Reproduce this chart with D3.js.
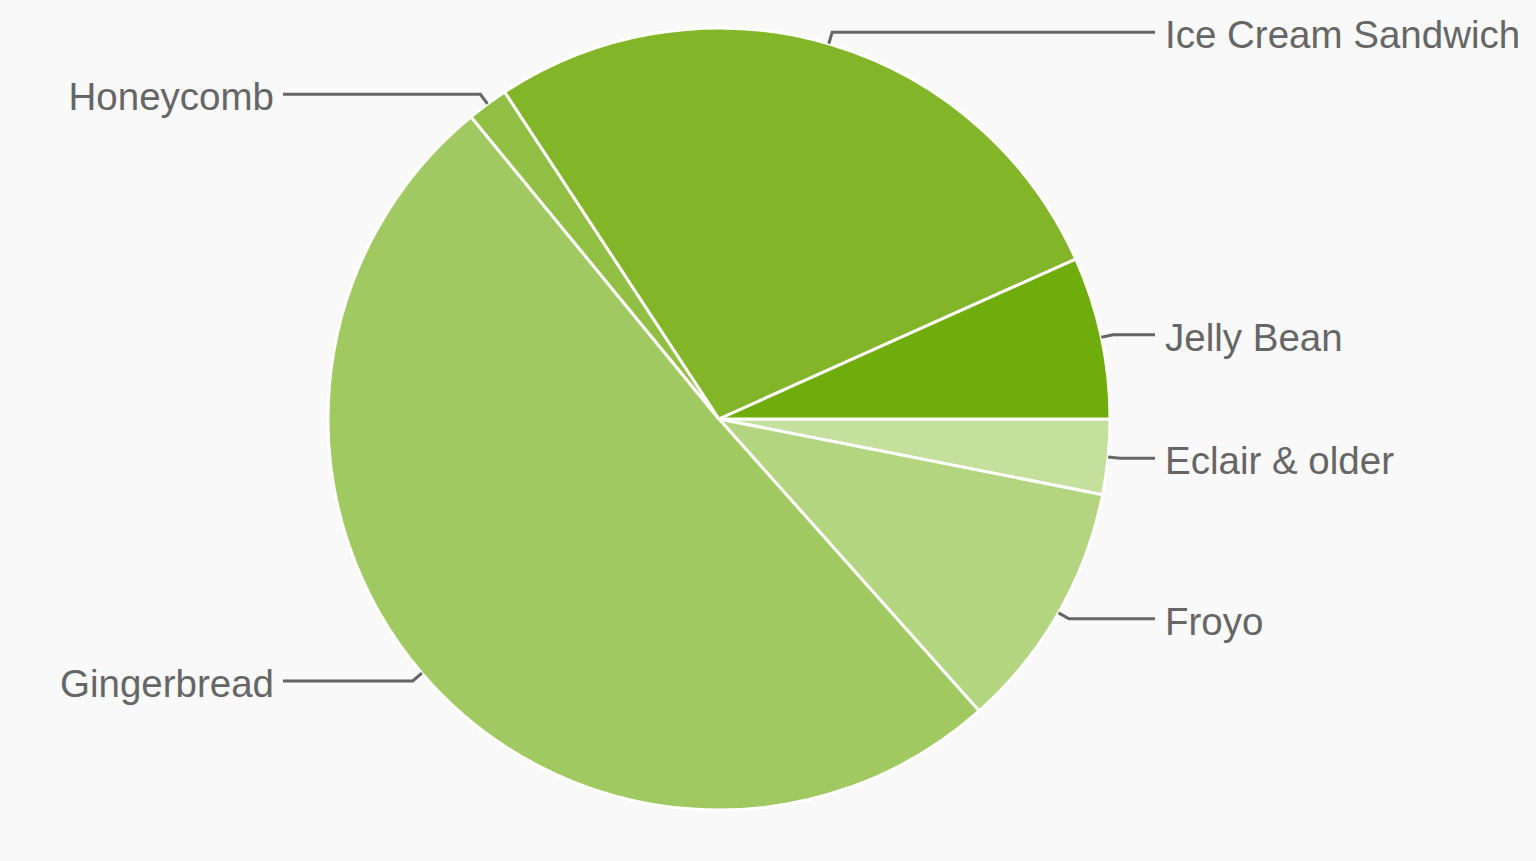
<!DOCTYPE html>
<html>
<head>
<meta charset="utf-8">
<script src="https://cdn.jsdelivr.net/npm/d3@7"></script>
<style>
  html, body { margin: 0; padding: 0; background: #f9f9f9; }
  svg { display: block; }
</style>
</head>
<body>
<div id="chart"></div>
<script>
// platform share, clockwise from 3 o'clock
const versions = ['Eclair & older', 'Froyo', 'Gingerbread', 'Honeycomb', 'Ice Cream Sandwich', 'Jelly Bean'];
const shares = [3.1, 10.3, 50.6, 1.7, 27.5, 6.7];
const colors = ['#c5df9d', '#b3d57f', '#a1c961', '#90bf43', '#82b628', '#6ead0b'];

const width = 1536;
const height = 861;
const cx = 719, cy = 419, radius = 391;

const svg = d3.select('#chart')
  .append('svg')
  .attr('width', width)
  .attr('height', height);

const g = svg.append('g')
  .attr('transform', `translate(${cx},${cy})`);

const data = versions.map((v, i) => ({ name: v, value: shares[i], color: colors[i] }));

const pie = d3.pie()
  .sort(null)
  .value(d => d.value)
  .startAngle(Math.PI / 2)
  .endAngle(Math.PI / 2 + 2 * Math.PI);

const arc = d3.arc().innerRadius(0).outerRadius(radius);

const arcs = pie(data);

g.selectAll('.slice')
  .data(arcs)
  .enter()
  .append('path')
    .attr('class', 'slice')
    .attr('d', arc)
    .attr('fill', d => d.data.color)
    .attr('stroke', '#ffffff')
    .attr('stroke-width', 3)
    .attr('stroke-linejoin', 'round');

// leader lines and labels
const labelGap = 45;
const pointAt = (a, r) => [Math.sin(a) * r, -Math.cos(a) * r];

arcs.forEach(d => {
  const mid = (d.startAngle + d.endAngle) / 2;
  const p0 = pointAt(mid, radius);
  const p1 = pointAt(mid, radius + 12);
  const right = p1[0] > 0;
  const xEnd = right ? radius + labelGap : -(radius + labelGap);

  g.append('path')
    .attr('d', d3.line()([p0, p1, [xEnd, p1[1]]]))
    .attr('fill', 'none')
    .attr('stroke', '#666666')
    .attr('stroke-width', 3);

  g.append('text')
    .attr('x', right ? xEnd + 10 : xEnd - 9)
    .attr('y', p1[1] + 16)
    .attr('text-anchor', right ? 'start' : 'end')
    .attr('font-family', '"Liberation Sans", Arial, sans-serif')
    .attr('font-size', 38.5)
    .attr('fill', '#666666')
    .text(d.data.name);
});
</script>
</body>
</html>
